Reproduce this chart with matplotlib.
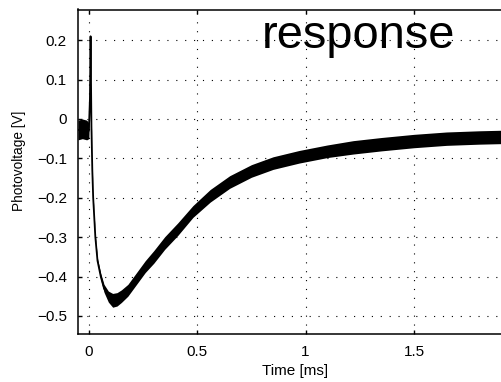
import matplotlib
matplotlib.use("Agg")
import matplotlib.pyplot as plt

plt.rcParams['font.family'] = ['Liberation Sans', 'DejaVu Sans']

# Time [ms]
time_ms = [-0.05, -0.03, -0.01, 0.0, 0.005, 0.008, 0.012, 0.016, 0.02, 0.03,
           0.04, 0.055, 0.07, 0.09, 0.11, 0.13, 0.15, 0.18, 0.22, 0.26,
           0.3, 0.35, 0.41, 0.48, 0.56, 0.65, 0.75, 0.85, 0.97, 1.1,
           1.22, 1.35, 1.5, 1.65, 1.8, 1.95]
# Photovoltage centre trace [V]
volt_mid = [-0.028, -0.025, -0.028, -0.03, 0.05, 0.21, -0.02, -0.13, -0.2, -0.3,
            -0.36, -0.40, -0.43, -0.45, -0.46, -0.458, -0.45, -0.435, -0.405, -0.375,
            -0.35, -0.315, -0.28, -0.235, -0.195, -0.16, -0.132, -0.112, -0.096, -0.082,
            -0.072, -0.064, -0.056, -0.05, -0.047, -0.045]
# Noise envelope [V]
volt_low = [-0.053, -0.05, -0.053, -0.05, 0.045, 0.207, -0.024, -0.134, -0.204, -0.305,
            -0.366, -0.408, -0.44, -0.465, -0.478, -0.475, -0.466, -0.45, -0.42, -0.39,
            -0.366, -0.331, -0.296, -0.25, -0.211, -0.176, -0.148, -0.128, -0.112, -0.098,
            -0.089, -0.081, -0.073, -0.067, -0.064, -0.062]
volt_high = [-0.003, 0.0, -0.003, -0.01, 0.055, 0.213, -0.016, -0.126, -0.196, -0.295,
             -0.354, -0.392, -0.42, -0.437, -0.443, -0.441, -0.434, -0.42, -0.39, -0.36,
             -0.334, -0.299, -0.264, -0.22, -0.179, -0.144, -0.116, -0.096, -0.08, -0.066,
             -0.055, -0.047, -0.039, -0.033, -0.03, -0.028]

xticks = [0, 0.5, 1, 1.5]
xticklabels = ['0', '0.5', '1', '1.5']
yticks = [-0.5, -0.4, -0.3, -0.2, -0.1, 0, 0.1, 0.2]
yticklabels = ['\u22120.5', '\u22120.4', '\u22120.3', '\u22120.2', '\u22120.1', '0', '0.1', '0.2']

fig = plt.figure(figsize=(5.02, 3.82), dpi=100)
ax = fig.add_axes([78/502, 1-334/382, (522.4-78)/502, (334-9.5)/382])

ax.fill_between(time_ms, volt_low, volt_high, color='black', linewidth=0)
ax.plot(time_ms, volt_mid, color='black', linewidth=1.3)

ax.set_xlim(-0.05, 2.0)
ax.set_ylim(-0.546, 0.278)
ax.set_xticks(xticks)
ax.set_xticklabels(xticklabels)
ax.set_yticks(yticks)
ax.set_yticklabels(yticklabels)
ax.tick_params(direction='in', length=3, width=1, top=True, right=True,
               labelsize=11, pad=8)
ax.grid(True, color='black', linestyle=(0, (1, 7)), linewidth=0.8)
for s in ax.spines.values():
    s.set_linewidth(1.1)

ax.set_xlabel('Time [ms]', fontsize=11)
ax.xaxis.set_label_coords((295-78)/444.4, -(364-334)/324.5)
ax.set_ylabel('Photovoltage [V]', fontsize=9.8)
ax.yaxis.set_label_coords(-(78-26)/444.4, (334-161)/324.5)

fig.text(262/502, 1-48/382, 'response', fontsize=33.8, ha='left', va='baseline')

fig.savefig('out.png', dpi=100)
